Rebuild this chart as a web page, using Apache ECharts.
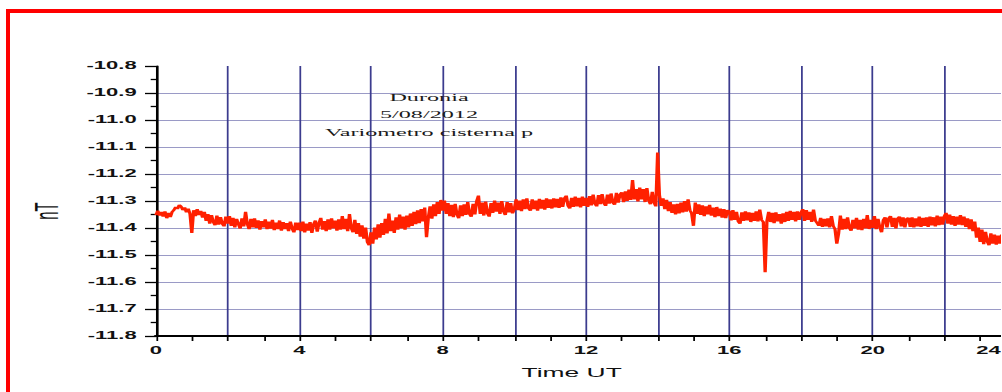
<!DOCTYPE html>
<html>
<head>
<meta charset="utf-8">
<script src="https://cdn.jsdelivr.net/npm/echarts@6/dist/echarts.min.js"></script>
<style>
  html, body { margin: 0; padding: 0; background: #ffffff; width: 1002px; height: 392px; overflow: hidden; }
  /* the plot is laid out narrow and widened horizontally, like the wide-format export */
  #chart { position: absolute; left: 0; top: 0; width: 455px; height: 392px; transform: scaleX(2.2); transform-origin: 0 0; }
  #frame { position: absolute; left: 6px; top: 9px; width: 1200px; height: 600px; border: 4px solid #ff0000; box-sizing: border-box; pointer-events: none; }
</style>
</head>
<body>
<div id="chart"></div>
<div id="frame"></div>
<script>
// Duronia station, 5 Aug 2012, variometer in the cistern: field component in nT,
// one sample every 0.05 h (3 min) from 00:00 to 24:00 UT.
const SAMPLE_STEP_H = 0.05;

const fieldNT = [
  // 00 h
  -11.352,-11.336,-11.354,-11.340,-11.358,-11.338,-11.364,-11.344,-11.360,-11.340,
  -11.334,-11.322,-11.330,-11.314,-11.320,-11.334,-11.324,-11.342,-11.328,-11.348,
  // 01 h
  -11.418,-11.334,-11.356,-11.330,-11.352,-11.336,-11.362,-11.340,-11.374,-11.348,
  -11.384,-11.352,-11.378,-11.390,-11.354,-11.388,-11.360,-11.384,-11.394,-11.358,
  // 02 h
  -11.384,-11.356,-11.392,-11.362,-11.398,-11.366,-11.386,-11.402,-11.364,-11.394,
  -11.340,-11.386,-11.404,-11.366,-11.398,-11.364,-11.400,-11.372,-11.406,-11.374,
  // 03 h
  -11.398,-11.368,-11.404,-11.376,-11.402,-11.370,-11.408,-11.380,-11.404,-11.372,
  -11.410,-11.378,-11.404,-11.382,-11.412,-11.376,-11.402,-11.416,-11.380,-11.408,
  // 04 h
  -11.380,-11.412,-11.376,-11.416,-11.384,-11.410,-11.378,-11.418,-11.386,-11.372,
  -11.414,-11.382,-11.362,-11.406,-11.374,-11.412,-11.368,-11.406,-11.364,-11.402,
  // 05 h
  -11.372,-11.410,-11.368,-11.406,-11.356,-11.404,-11.366,-11.412,-11.348,-11.400,
  -11.416,-11.370,-11.422,-11.382,-11.432,-11.390,-11.440,-11.398,-11.452,-11.464,
  // 06 h
  -11.416,-11.458,-11.398,-11.442,-11.386,-11.436,-11.382,-11.426,-11.366,-11.420,
  -11.346,-11.412,-11.372,-11.418,-11.360,-11.406,-11.350,-11.402,-11.358,-11.406,
  // 07 h
  -11.354,-11.398,-11.346,-11.392,-11.340,-11.386,-11.334,-11.382,-11.330,-11.376,
  -11.324,-11.434,-11.362,-11.320,-11.366,-11.312,-11.356,-11.304,-11.348,-11.296,
  // 08 h
  -11.336,-11.298,-11.348,-11.308,-11.356,-11.314,-11.360,-11.310,-11.350,-11.364,
  -11.316,-11.356,-11.312,-11.352,-11.304,-11.348,-11.358,-11.310,-11.350,-11.300,
  // 09 h
  -11.280,-11.348,-11.306,-11.354,-11.302,-11.346,-11.358,-11.308,-11.344,-11.298,
  -11.340,-11.306,-11.348,-11.300,-11.338,-11.352,-11.304,-11.342,-11.308,-11.346,
  // 10 h
  -11.330,-11.294,-11.334,-11.298,-11.338,-11.294,-11.330,-11.290,-11.328,-11.336,
  -11.294,-11.330,-11.298,-11.336,-11.292,-11.328,-11.296,-11.332,-11.290,-11.326,
  // 11 h
  -11.294,-11.328,-11.290,-11.324,-11.292,-11.326,-11.286,-11.322,-11.290,-11.280,
  -11.318,-11.328,-11.288,-11.322,-11.284,-11.320,-11.288,-11.324,-11.284,-11.318,
  // 12 h
  -11.288,-11.322,-11.282,-11.316,-11.276,-11.310,-11.320,-11.278,-11.312,-11.274,
  -11.308,-11.318,-11.276,-11.310,-11.272,-11.306,-11.314,-11.270,-11.306,-11.276,
  // 13 h
  -11.268,-11.304,-11.264,-11.300,-11.258,-11.296,-11.222,-11.294,-11.256,-11.302,
  -11.250,-11.294,-11.256,-11.304,-11.252,-11.298,-11.312,-11.266,-11.306,-11.320,
  // 14 h
  -11.120,-11.278,-11.318,-11.290,-11.330,-11.296,-11.338,-11.304,-11.344,-11.312,
  -11.350,-11.310,-11.346,-11.306,-11.342,-11.300,-11.340,-11.294,-11.334,-11.346,
  // 15 h
  -11.392,-11.306,-11.348,-11.312,-11.352,-11.316,-11.356,-11.320,-11.350,-11.314,
  -11.354,-11.324,-11.360,-11.322,-11.356,-11.328,-11.362,-11.330,-11.364,-11.334,
  // 16 h
  -11.338,-11.372,-11.334,-11.370,-11.340,-11.376,-11.384,-11.342,-11.374,-11.338,
  -11.372,-11.342,-11.378,-11.344,-11.374,-11.338,-11.376,-11.332,-11.370,-11.378,
  // 17 h
  -11.564,-11.374,-11.340,-11.378,-11.344,-11.382,-11.342,-11.376,-11.348,-11.384,
  -11.346,-11.378,-11.340,-11.374,-11.336,-11.370,-11.340,-11.376,-11.338,-11.370,
  // 18 h
  -11.342,-11.330,-11.374,-11.334,-11.370,-11.340,-11.378,-11.332,-11.372,-11.382,
  -11.392,-11.362,-11.396,-11.366,-11.394,-11.364,-11.398,-11.356,-11.392,-11.404,
  // 19 h
  -11.458,-11.420,-11.354,-11.406,-11.366,-11.404,-11.360,-11.400,-11.410,-11.370,
  -11.402,-11.362,-11.406,-11.370,-11.408,-11.366,-11.402,-11.352,-11.404,-11.370,
  // 20 h
  -11.400,-11.356,-11.404,-11.366,-11.398,-11.416,-11.370,-11.360,-11.398,-11.364,
  -11.356,-11.396,-11.362,-11.402,-11.364,-11.358,-11.394,-11.360,-11.398,-11.366,
  // 21 h
  -11.362,-11.396,-11.360,-11.398,-11.364,-11.394,-11.358,-11.396,-11.362,-11.392,
  -11.360,-11.396,-11.358,-11.390,-11.360,-11.394,-11.354,-11.390,-11.358,-11.388,
  // 22 h
  -11.356,-11.344,-11.384,-11.350,-11.388,-11.356,-11.392,-11.358,-11.388,-11.352,
  -11.390,-11.358,-11.396,-11.364,-11.404,-11.368,-11.412,-11.376,-11.436,-11.398,
  // 23 h
  -11.452,-11.406,-11.460,-11.414,-11.450,-11.464,-11.420,-11.458,-11.424,-11.462,
  -11.428,-11.458,-11.424,-11.460,-11.430,-11.464,-11.432,-11.462,-11.434,-11.464,
  // 24 h
  -11.448
];

const xLabelHours = [0, 4, 8, 12, 16, 20, 24];
const titleLines = ['Duronia', '5/08/2012', 'Variometro cisterna p'];
const xAxisTitle = 'Time UT';
const yAxisTitle = 'nT';

const seriesData = fieldNT.map((v, i) => [+(i * SAMPLE_STEP_H).toFixed(2), v]);

const labelFont = { fontFamily: 'Liberation Sans', fontWeight: 'bold', fontSize: 10, color: '#111111' };

const chart = echarts.init(document.getElementById('chart'), null, { renderer: 'svg' });

chart.setOption({
  animation: false,
  backgroundColor: 'transparent',
  title: {
    text: titleLines.join('\n'),
    left: 195,
    top: 88,
    padding: 0,
    textAlign: 'center',
    textStyle: { fontFamily: 'Liberation Serif', fontWeight: 'normal', fontSize: 11, lineHeight: 17.5, color: '#1a1a1a' }
  },
  // the 24 h end of the time axis lies just past the right edge of the page
  grid: { left: 70.9, top: 66, width: 390.9, bottom: 56, outerBoundsMode: 'none', containLabel: false },
  xAxis: {
    type: 'value',
    min: 0,
    max: 24,
    interval: 2,
    name: xAxisTitle,
    nameLocation: 'middle',
    nameGap: 31,
    nameTextStyle: { fontFamily: 'Liberation Sans', fontSize: 12, color: '#111111', padding: [0, 13, 0, 0] },
    axisLine: { show: true, onZero: false, lineStyle: { color: '#000000', width: 2 } },
    axisTick: { show: true, inside: false, length: 5, lineStyle: { color: '#000000', width: 0.8 } },
    minorTick: { show: true, splitNumber: 2, length: 5, lineStyle: { color: '#000000', width: 0.8 } },
    axisLabel: Object.assign({
      margin: 10,
      formatter: (v) => {
        if (!xLabelHours.includes(v)) return '';
        return v === 24 ? '{last|24}' : String(v);
      },
      // the last hour label is pulled inward so it stays on the page
      rich: { last: Object.assign({ padding: [0, 25, 0, 0] }, labelFont) }
    }, labelFont),
    splitLine: { show: true, showMinLine: false, lineStyle: { color: '#3c3c8e', width: 0.8 } },
    minorSplitLine: { show: false }
  },
  yAxis: {
    type: 'value',
    min: -11.8,
    max: -10.8,
    interval: 0.1,
    name: yAxisTitle,
    nameLocation: 'middle',
    nameGap: 42,
    nameRotate: 90,
    nameTextStyle: { fontFamily: 'Liberation Sans', fontSize: 15, color: '#111111', padding: [0, 20, 0, 0] },
    axisLine: { show: true, onZero: false, lineStyle: { color: '#000000', width: 1.2 } },
    axisTick: { show: true, inside: false, length: 5, lineStyle: { color: '#000000', width: 1.3 } },
    minorTick: { show: true, splitNumber: 2, length: 2.4, lineStyle: { color: '#000000', width: 1.3 } },
    axisLabel: Object.assign({ margin: 8.8, formatter: (v) => v.toFixed(1) }, labelFont),
    splitLine: { show: true, showMinLine: false, showMaxLine: false, lineStyle: { color: '#9a9ac6', width: 1 } }
  },
  series: [{
    type: 'line',
    data: seriesData,
    symbol: 'none',
    showSymbol: false,
    clip: true,
    lineStyle: { color: '#ff2000', width: 1.5 }
  }]
});
</script>
</body>
</html>
